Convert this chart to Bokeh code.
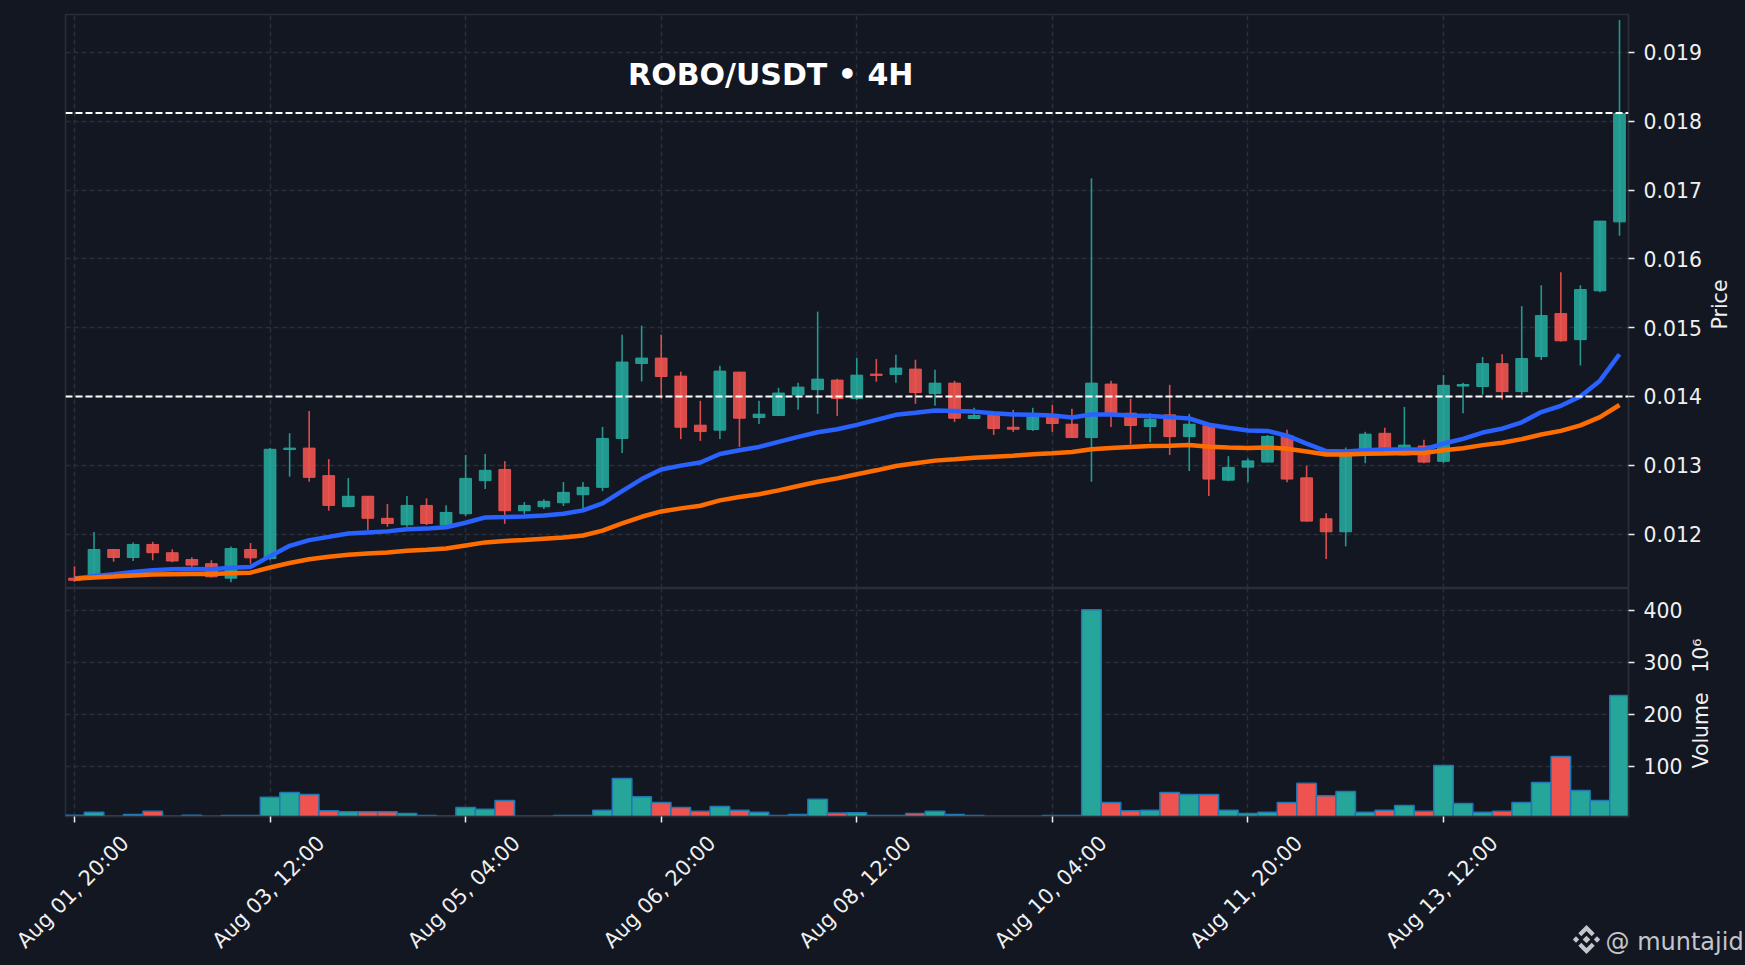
from bokeh.plotting import figure
from bokeh.layouts import column, row
from bokeh.embed import file_html
from bokeh.resources import INLINE
from bokeh.core.properties import value
from bokeh.models import ColumnDataSource, Range1d, LinearAxis, FixedTicker, Span, Label

BG = "#131722"; FRAME = "#2a2e39"; GRID = "#2a2e39"; TEXT = "#f0f0f0"
UP = "#26a69a"; DOWN = "#ef5350"; MARK = "#c4c6cb"

title_text = "ROBO/USDT \u2022 4H"
tick_positions = [0, 10, 20, 30, 40, 50, 60, 70]
tick_labels = ["Aug 01, 20:00", "Aug 03, 12:00", "Aug 05, 04:00", "Aug 06, 20:00",
               "Aug 08, 12:00", "Aug 10, 04:00", "Aug 11, 20:00", "Aug 13, 12:00"]
levels = [0.0140, 0.01812]
price_ticks = [0.012, 0.013, 0.014, 0.015, 0.016, 0.017, 0.018, 0.019]
volume_ticks = [100, 200, 300, 400]

# values in thousandths
opens = [11.36,11.38,11.777,11.66,11.85,11.73,11.63,11.57,11.36,11.777,
         11.645,13.23,13.25,12.85,12.40,12.55,12.23,12.136,12.417,12.13,
         12.296,12.777,12.94,12.34,12.398,12.456,12.573,12.68,13.39,14.48,
         14.558,14.296,13.583,13.51,14.354,13.694,13.723,14.024,14.10,14.238,
         13.97,14.325,14.32,14.398,14.044,14.194,13.68,13.733,13.553,13.52,
         13.70,13.597,13.403,14.18,13.757,13.563,13.733,13.417,13.575,12.784,
         12.973,13.047,13.43,12.818,12.223,12.034,13.18,13.465,13.15,13.28,
         13.058,14.151,14.145,14.477,14.071,14.58,15.204,14.826,15.535,16.537]
closes = [11.33,11.777,11.66,11.85,11.73,11.61,11.55,11.38,11.79,11.655,
          13.233,13.25,12.825,12.417,12.55,12.23,12.155,12.417,12.155,12.315,
          12.81,12.927,12.34,12.417,12.476,12.607,12.68,13.39,14.50,14.558,
          14.29,13.553,13.49,14.369,13.684,13.743,14.05,14.136,14.252,13.97,
          14.31,14.306,14.413,14.058,14.194,13.684,13.723,13.534,13.524,13.70,
          13.607,13.403,14.194,13.757,13.578,13.67,13.417,13.597,12.80,12.97,
          13.064,13.419,12.80,12.189,12.034,13.18,13.453,13.20,13.293,13.047,
          14.162,14.174,14.477,14.071,14.551,15.175,14.809,15.553,16.548,18.11]
highs = [11.534,12.03,11.777,11.88,11.89,11.78,11.665,11.62,11.82,11.87,
         13.25,13.466,13.79,13.09,12.815,12.55,12.437,12.553,12.52,12.42,
         13.15,13.165,13.06,12.466,12.505,12.757,12.757,13.558,14.898,15.03,
         14.898,14.36,13.937,14.447,14.354,13.937,14.126,14.20,15.233,14.257,
         14.563,14.544,14.607,14.534,14.388,14.228,13.835,13.74,13.806,13.835,
         13.879,13.82,17.17,14.228,13.966,13.757,14.17,13.748,13.58,13.133,
         13.104,13.44,13.516,12.995,12.303,13.258,13.487,13.545,13.848,13.373,
         14.311,14.20,14.574,14.614,15.312,15.616,15.804,15.616,16.548,19.47]
lows = [11.306,11.38,11.60,11.61,11.62,11.59,11.52,11.37,11.30,11.57,
        11.62,12.835,12.76,12.34,12.40,12.06,12.107,12.107,12.13,12.12,
        12.26,12.655,12.15,12.29,12.364,12.408,12.36,12.626,13.18,14.218,
        13.966,13.38,13.354,13.383,13.267,13.60,13.723,13.806,13.748,13.718,
        13.95,14.214,14.20,13.893,13.864,13.63,13.68,13.44,13.485,13.50,
        13.485,13.403,12.762,13.558,13.306,13.335,13.15,12.917,12.555,12.77,
        12.755,13.047,12.755,12.183,11.64,11.823,13.03,13.15,13.14,13.03,
        13.03,13.756,14.025,13.956,14.02,14.529,14.797,14.449,15.513,16.336]
ema_fast = [11.354,11.39,11.417,11.45,11.476,11.49,11.495,11.49,11.51,11.524,
            11.68,11.83,11.913,11.96,12.01,12.025,12.04,12.07,12.08,12.10,
            12.165,12.243,12.248,12.257,12.27,12.296,12.345,12.447,12.626,12.80,
            12.94,12.995,13.04,13.165,13.218,13.267,13.34,13.413,13.48,13.524,
            13.587,13.66,13.733,13.762,13.796,13.79,13.78,13.757,13.738,13.733,
            13.723,13.694,13.738,13.738,13.723,13.718,13.70,13.68,13.59,13.545,
            13.505,13.50,13.43,13.316,13.207,13.20,13.22,13.23,13.23,13.23,
            13.316,13.384,13.476,13.533,13.625,13.773,13.865,14.0,14.23,14.614]
ema_slow = [11.35,11.37,11.383,11.398,11.413,11.417,11.42,11.42,11.43,11.44,
            11.515,11.58,11.636,11.67,11.70,11.72,11.733,11.757,11.772,11.79,
            11.835,11.88,11.90,11.913,11.932,11.95,11.98,12.05,12.155,12.252,
            12.33,12.374,12.413,12.49,12.54,12.58,12.636,12.70,12.76,12.81,
            12.87,12.927,12.99,13.03,13.068,13.087,13.11,13.126,13.14,13.16,
            13.175,13.194,13.233,13.252,13.267,13.28,13.285,13.295,13.27,13.26,
            13.253,13.26,13.24,13.20,13.156,13.156,13.167,13.173,13.18,13.18,
            13.22,13.247,13.293,13.327,13.38,13.447,13.50,13.58,13.70,13.876]
volumes = [5.5,11,3.5,7,13,3.5,5.5,3.5,5,5,
           40,49,45.5,14,12,12,12,9,5,3.5,
           20.5,17,34,3.5,3.5,5,5,15,76,41,
           30,20.5,13,22.4,15,11,5,7,36,9.6,
           10,5,5,9,13,7,5,3.5,3.5,3.5,
           5,5,401,30,14,15,49,45.5,45.5,15,
           9,11,30,67,43,51,11,15,24,13,
           101,28,11,13,30,68.5,118.6,53,34,236]

n = len(opens)
idx = list(range(n))
colors = [UP if c >= o else DOWN for o, c in zip(opens, closes)]
scale = 0.001
src = ColumnDataSource(dict(
    x=idx,
    o=[v * scale for v in opens], c=[v * scale for v in closes],
    h=[v * scale for v in highs], l=[v * scale for v in lows],
    top=[max(a, b) * scale for a, b in zip(opens, closes)],
    bot=[min(a, b) * scale for a, b in zip(opens, closes)],
    fast=[v * scale for v in ema_fast], slow=[v * scale for v in ema_slow],
    vol=volumes, color=colors))

X0, X1 = -0.46, 79.46
LEFT, RIGHT = 65, 117
W, H = 1745, 965
PY0, PY1 = 0.01121, 0.01955
VY0, VY1 = 3, 442


def style(p):
    p.background_fill_color = BG
    p.border_fill_color = BG
    p.outline_line_color = FRAME
    p.outline_line_width = 1.5
    ax = p.yaxis[0]
    ax.axis_line_color = FRAME
    ax.axis_line_width = 1.5
    ax.major_tick_line_color = TEXT
    ax.major_tick_line_width = 1.5
    ax.major_tick_out = 6
    ax.major_tick_in = 0
    ax.minor_tick_line_color = None
    ax.major_label_text_color = TEXT
    ax.major_label_text_font = "DejaVu Sans"
    ax.major_label_text_font_size = "20.4px"
    ax.major_label_standoff = 9
    p.grid.grid_line_color = GRID
    p.grid.grid_line_dash = "5 3"
    p.grid.grid_line_width = 1.5
    p.xgrid.ticker = FixedTicker(ticks=tick_positions)


price = figure(width=W, height=14 + 574, output_backend="svg", toolbar_location=None,
               x_range=Range1d(X0, X1), y_range=Range1d(PY0, PY1),
               x_axis_location=None, y_axis_location="right",
               min_border_left=LEFT, min_border_right=RIGHT, min_border_top=14, min_border_bottom=0)
price.yaxis.ticker = FixedTicker(ticks=price_ticks)
price.yaxis.formatter.precision = 3
style(price)
price.segment("x", "h", "x", "l", source=src, color="color", line_width=1.6, alpha=0.9)
price.vbar("x", width=0.6, top="top", bottom="bot", source=src, fill_color="color",
           line_color="color", fill_alpha=0.9, line_alpha=0.9, line_width=1)
for lv in levels:
    price.add_layout(Span(location=lv, dimension="width", line_color="#ffffff", line_width=2,
                          line_dash="7 3"))
price.line("x", "fast", source=src, color="#2962ff", line_width=4.5)
price.line("x", "slow", source=src, color="#ff6d00", line_width=4.5)
price.add_layout(Label(x=35.6, y=0.01868, text=title_text, text_color="#ffffff",
                       text_font="DejaVu Sans", text_font_size="30px", text_font_style="bold",
                       text_align="center", text_baseline="middle"))

volume = figure(width=W, height=228 + 149, output_backend="svg", toolbar_location=None,
                x_range=price.x_range, y_range=Range1d(VY0, VY1),
                x_axis_location=None, y_axis_location="right",
                min_border_left=LEFT, min_border_right=RIGHT, min_border_top=0, min_border_bottom=149)
volume.yaxis.ticker = FixedTicker(ticks=volume_ticks)
style(volume)
volume.vbar("x", width=1.0, top="vol", bottom=0, source=src, fill_color="color",
            line_color="#1f77b4", line_width=1.5)

tick_axis = LinearAxis(ticker=FixedTicker(ticks=tick_positions), axis_line_color=FRAME,
                       axis_line_width=1.5, major_tick_line_color=TEXT, major_tick_line_width=1.5,
                       major_tick_out=6, major_tick_in=0, minor_tick_line_color=None,
                       major_label_overrides={t: "" for t in tick_positions},
                       major_label_text_font_size="1px", major_label_standoff=0)
volume.add_layout(tick_axis, "below")
shift = 2.6
volume.extra_x_ranges["labels"] = Range1d(X0 - shift, X1 - shift)
label_axis = LinearAxis(x_range_name="labels", ticker=FixedTicker(ticks=tick_positions),
                        axis_line_color=None, major_tick_line_color=None, minor_tick_line_color=None,
                        major_label_overrides=dict(zip(tick_positions, tick_labels)),
                        major_label_orientation=0.7854, major_label_text_color=TEXT,
                        major_label_text_font="DejaVu Sans", major_label_text_font_size="21px",
                        major_label_standoff=11)
volume.add_layout(label_axis, "below")

# transparent page-sized figure on top, in page pixels, for what lies outside the plot frames
over = figure(width=W, height=H, output_backend="svg", toolbar_location=None,
              x_range=Range1d(0, W), y_range=Range1d(H, 0), x_axis_location=None, y_axis_location=None,
              min_border=0, outline_line_color=None,
              background_fill_color=None, border_fill_color=None)
over.grid.visible = False
over.text(x=[1719], y=[304], text=["Price"], angle=[90], angle_units="deg", text_color=TEXT,
          text_font=value("DejaVu Sans"), text_font_size="20.5px", text_align="center",
          text_baseline="middle")
over.text(x=[1700], y=[703], text=["Volume\u00a0\u00a0\u00a010\u2076"], angle=[90], angle_units="deg",
          text_color=TEXT, text_font=value("DejaVu Sans"), text_font_size="20.5px",
          text_align="center", text_baseline="middle")
over.text(x=[1605], y=[941], text=["@ muntajid"], text_color=MARK, text_font=value("DejaVu Sans"),
          text_font_size="24px", text_baseline="alphabetic")
LX, LY = 1586, 939
logo = [
    [(0, 3.8), (3.8, 0), (0, -3.8), (-3.8, 0)],
    [(-10.5, 3.2), (-7.3, 0), (-10.5, -3.2), (-13.7, 0)],
    [(10.5, 3.2), (13.7, 0), (10.5, -3.2), (7.3, 0)],
    [(0, 14.5), (8.2, 6.3), (5.2, 3.3), (0, 8.5), (-5.2, 3.3), (-8.2, 6.3)],
    [(0, -14.5), (8.2, -6.3), (5.2, -3.3), (0, -8.5), (-5.2, -3.3), (-8.2, -6.3)],
]
over.patches([[LX + a for a, b in poly] for poly in logo], [[LY - b for a, b in poly] for poly in logo],
             fill_color=MARK, line_color=None)

charts = column(price, volume, spacing=0)
layout = column(charts, row(over, margin=(-H, 0, 0, 0)), spacing=0)
html = file_html(layout, INLINE)
html = html.replace("</head>", "<style>html,body{background:#131722}</style></head>")
open("out.html", "w").write(html)
